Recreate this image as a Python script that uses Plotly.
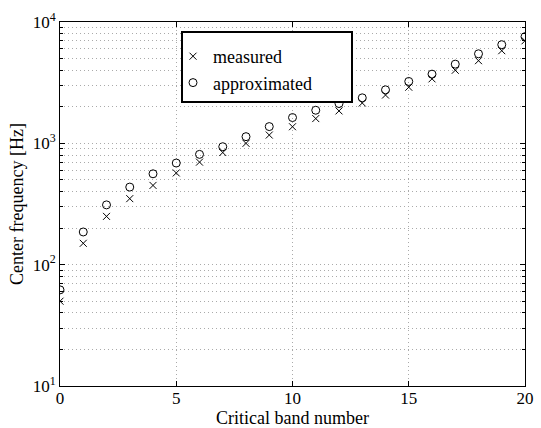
import plotly.graph_objects as go

band = list(range(21))
measured = [50, 150, 250, 350, 450, 570, 700, 840, 1000, 1170, 1370, 1600,
            1850, 2150, 2500, 2900, 3400, 4000, 4800, 5800, 7000]
approximated = [62, 186, 311, 436, 561, 688, 811, 938, 1135, 1374, 1631, 1874,
                2128, 2371, 2761, 3236, 3717, 4494, 5470, 6501, 7568]
x_ticks = [0, 5, 10, 15, 20]
y_tickvals = [10, 100, 1000, 10000]
y_ticktext = ["10<sup>1</sup>", "10<sup>2</sup>", "10<sup>3</sup>", "10<sup>4</sup>"]

FONT = "Liberation Serif, Times New Roman, serif"
W, H = 541, 428
L, R, T, B = 60, 16, 22, 42
pw, ph = W - L - R, H - T - B
GRID = "#aaaaaa"
DOT = "1px,3px"

def px(x):
    return (x - L) / pw

def py(y):
    return (H - B - y) / ph

fig = go.Figure()
fig.add_trace(go.Scatter(x=band, y=measured, mode="markers", name="measured",
                         marker=dict(symbol="x-thin-open", size=7, color="black",
                                     line=dict(width=1, color="black"))))
fig.add_trace(go.Scatter(x=band, y=approximated, mode="markers", name="approximated",
                         marker=dict(symbol="circle-open", size=8, color="black",
                                     line=dict(width=1, color="black"))))

fig.add_shape(type="rect", xref="paper", yref="paper",
              x0=px(182), x1=px(352), y0=py(102), y1=py(32),
              line=dict(color="black", width=2), fillcolor="white", layer="above")

axis_common = dict(showline=True, linecolor="black", linewidth=1, mirror="allticks",
                   ticks="inside", tickcolor="black", ticklen=5,
                   showgrid=True, gridcolor=GRID, griddash=DOT, gridwidth=1,
                   zeroline=False, tickfont=dict(family=FONT, size=17, color="black"))

fig.update_xaxes(range=[0, 20], tickvals=x_ticks, ticktext=[str(v) for v in x_ticks],
                 ticklabelstandoff=-3,
                 title=dict(text="Critical band number", font=dict(family=FONT, size=18, color="black"),
                            standoff=2),
                 **axis_common)
fig.update_yaxes(type="log", range=[1, 4], tickvals=y_tickvals, ticktext=y_ticktext,
                 title=dict(text="Center frequency [Hz]", font=dict(family=FONT, size=18, color="black"),
                            standoff=4),
                 minor=dict(dtick="D1", showgrid=True, gridcolor=GRID, griddash=DOT,
                            ticks="inside", ticklen=3, tickcolor="black"),
                 **axis_common)

fig.update_layout(width=W, height=H, margin=dict(l=L, r=R, t=T, b=B, autoexpand=False),
                  plot_bgcolor="white", paper_bgcolor="white",
                  font=dict(family=FONT, size=18, color="black"),
                  legend=dict(x=px(173), y=py(38), xanchor="left", yanchor="top",
                              bgcolor="rgba(0,0,0,0)", borderwidth=0,
                              font=dict(family=FONT, size=18, color="black"),
                              tracegroupgap=0),
                  showlegend=True)

fig.write_html("out.html")
